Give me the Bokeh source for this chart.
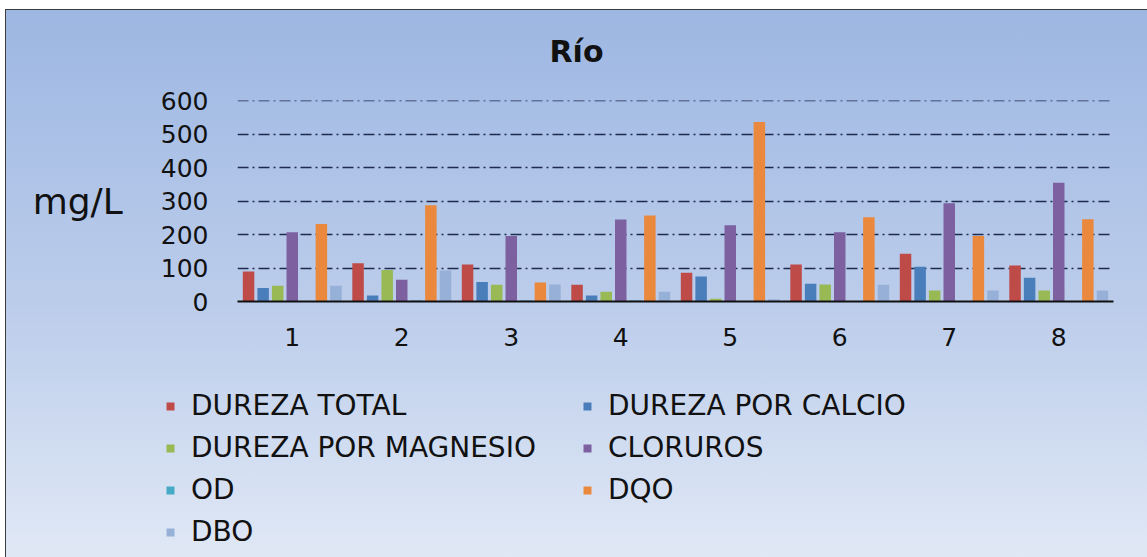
from bokeh.plotting import figure
from bokeh.layouts import column
from bokeh.models import ColumnDataSource, Legend, LegendItem, FactorRange, FixedTicker
from bokeh.transform import dodge
from bokeh.embed import file_html
from bokeh.resources import INLINE

sites = ["1", "2", "3", "4", "5", "6", "7", "8"]
dureza_total = [90, 114, 111, 50, 86, 111, 143, 108]
dureza_calcio = [40, 18, 58, 18, 75, 53, 104, 71]
dureza_magnesio = [47, 94, 50, 29, 8, 51, 33, 33]
cloruros = [207, 65, 196, 245, 228, 207, 294, 355]
od = [0, 3, 3, 3, 0, 0, 0, 0]
dqo = [232, 288, 57, 257, 537, 252, 196, 246]
dbo = [47, 93, 51, 29, 7, 50, 33, 33]

series_names = ["DUREZA TOTAL", "DUREZA POR CALCIO", "DUREZA POR MAGNESIO",
                "CLORUROS", "OD", "DQO", "DBO"]
series_values = [dureza_total, dureza_calcio, dureza_magnesio, cloruros, od, dqo, dbo]
series_colors = ["#BE4B48", "#4A7EBB", "#98B954", "#7D60A0", "#46AAC5", "#EA893D", "#97B0D8"]
y_ticks = [0, 100, 200, 300, 400, 500, 600]

FONT = "DejaVu Sans"
W = 1147

data = {"site": sites}
for i, vals in enumerate(series_values):
    data[f"s{i}"] = vals
source = ColumnDataSource(data)

# ---- main chart ----
p = figure(width=W, height=370, x_range=FactorRange(*sites, range_padding=0),
           y_range=(0, 601), output_backend="svg", toolbar_location=None,
           min_border_left=237, min_border_right=34, min_border_top=100,
           min_border_bottom=69, frame_align=False)
p.background_fill_alpha = 0
p.border_fill_alpha = 0
p.outline_line_color = None

step = 0.133
width = 0.105
for i, color in enumerate(series_colors):
    p.vbar(x=dodge("site", (i - 3) * step, range=p.x_range), top=f"s{i}",
           width=width, source=source, fill_color=color, line_color=None)

p.title.text = "Río"
p.title.align = "left"
p.title.offset = 312
p.title.vertical_align = "top"
p.title.standoff = 60
p.title.text_font = FONT
p.title.text_font_size = "30px"
p.title.text_font_style = "bold"
p.title.text_color = "#111111"

p.xgrid.grid_line_color = None
p.ygrid.grid_line_color = "#1E2A4E"
p.ygrid.grid_line_width = 1.5
p.ygrid.grid_line_dash = "11 4 2 4"
p.yaxis.ticker = FixedTicker(ticks=y_ticks)

p.yaxis.axis_line_color = None
p.yaxis.major_tick_line_color = None
p.yaxis.minor_tick_line_color = None
p.yaxis.major_label_standoff = 23
p.yaxis.major_label_text_font = FONT
p.yaxis.major_label_text_font_size = "25px"
p.yaxis.major_label_text_color = "#111111"
p.yaxis.axis_label = "mg/L"
p.yaxis.axis_label_orientation = "horizontal"
p.yaxis.axis_label_standoff = 35
p.yaxis.axis_label_text_font = FONT
p.yaxis.axis_label_text_font_size = "36px"
p.yaxis.axis_label_text_font_style = "normal"
p.yaxis.axis_label_text_color = "#111111"

p.xaxis.axis_line_color = "#111111"
p.xaxis.axis_line_width = 2
p.xaxis.major_tick_line_color = None
p.xaxis.minor_tick_line_color = None
p.xaxis.major_label_standoff = 20
p.xaxis.major_label_text_font = FONT
p.xaxis.major_label_text_font_size = "25px"
p.xaxis.major_label_text_color = "#111111"

# ---- legend strip ----
lg = figure(width=W, height=187, x_range=FactorRange(*sites, range_padding=0),
            y_range=(0, 601), output_backend="svg", toolbar_location=None,
            x_axis_type=None, y_axis_type=None, min_border=0, frame_align=False)
lg.background_fill_alpha = 0
lg.border_fill_alpha = 0
lg.outline_line_color = None
lg.grid.grid_line_color = None
items = []
for i, (name, color) in enumerate(zip(series_names, series_colors)):
    r = lg.vbar(x="site", top=f"s{i}", width=width, source=source,
                fill_color=color, line_color=None, visible=False)
    items.append(LegendItem(label=name, renderers=[r]))

legend = Legend(items=items, orientation="horizontal", ncols=2, location=(165, 9),
                label_text_font=FONT, label_text_font_size="28px", label_text_color="#111111",
                glyph_width=10, glyph_height=10, label_standoff=16, spacing=9,
                label_width=382, label_height=31, padding=0, margin=0,
                border_line_color=None, background_fill_alpha=0,
                inactive_fill_alpha=0)
lg.add_layout(legend, "center")

layout = column(p, lg, spacing=0,
                styles={"background": "linear-gradient(to bottom, #9CB6E2 0%, #BCCDEB 55%, #E0E8F5 100%)",
                        "box-shadow": "inset 5px 9px 0 0 #ffffff, inset 6px 10px 0 0 #3c3c3c"})

open("out.html", "w").write(file_html(layout, INLINE))
